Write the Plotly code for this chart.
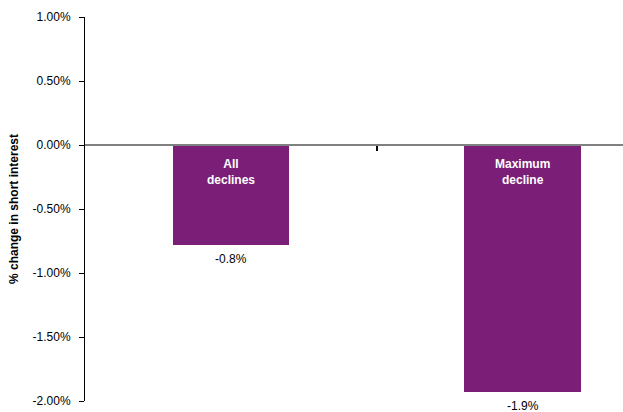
import plotly.graph_objects as go

# Data
categories = ["All<br>declines", "Maximum<br>decline"]
positions = [0, 1]
values = [-0.78, -1.93]          # % change in short interest
y_ticks = [1.0, 0.5, 0.0, -0.5, -1.0, -1.5, -2.0]
y_tick_labels = [f"{v:.2f}%" for v in y_ticks]

purple = "#7A1E78"
font_family = "Liberation Sans, Arial, sans-serif"

fig = go.Figure()
fig.add_trace(go.Bar(
    x=positions,
    y=values,
    width=0.40,
    marker=dict(color=purple, line=dict(width=0)),
    hoverinfo="skip",
))

annotations = []
for x, v, name in zip(positions, values, categories):
    # category name inside the top of the bar
    annotations.append(dict(
        x=x, y=0, xref="x", yref="y", text=f"<b>{name}</b>",
        showarrow=False, yanchor="top", yshift=-10,
        font=dict(family=font_family, size=12, color="white"),
    ))
    # value label under the bar
    annotations.append(dict(
        x=x, y=v, xref="x", yref="y", text=f"{v:.1f}%",
        showarrow=False, yanchor="top", yshift=-5,
        font=dict(family=font_family, size=12, color="black"),
    ))

# rotated y-axis title
annotations.append(dict(
    x=-(85 - 14) / 538, y=0.5, xref="paper", yref="paper",
    text="<b>% change in short interest</b>", textangle=-90,
    showarrow=False, xanchor="center", yanchor="middle",
    font=dict(family=font_family, size=12, color="black"),
))

fig.update_layout(
    width=623, height=412,
    margin=dict(l=85, r=0, t=17, b=11),
    paper_bgcolor="white", plot_bgcolor="white",
    showlegend=False,
    bargap=0,
    annotations=annotations,
    font=dict(family=font_family, size=12, color="black"),
    xaxis=dict(
        range=[-0.5, 1.344],
        anchor="free", position=2 / 3,
        showline=True, linecolor="#808080", linewidth=2,
        showgrid=False, zeroline=False,
        tickmode="array", tickvals=[0.5], ticktext=[""],
        ticks="outside", ticklen=5, tickwidth=1.5, tickcolor="black",
        showticklabels=False,
    ),
    yaxis=dict(
        range=[-2.0, 1.0],
        tickmode="array", tickvals=y_ticks, ticktext=y_tick_labels,
        showline=True, linecolor="black", linewidth=1,
        ticks="outside", ticklen=5, tickcolor="black", tickwidth=1,
        ticklabelstandoff=6,
        showgrid=False, zeroline=False,
        tickfont=dict(family=font_family, size=12, color="black"),
    ),
)

fig.write_html("out.html")
